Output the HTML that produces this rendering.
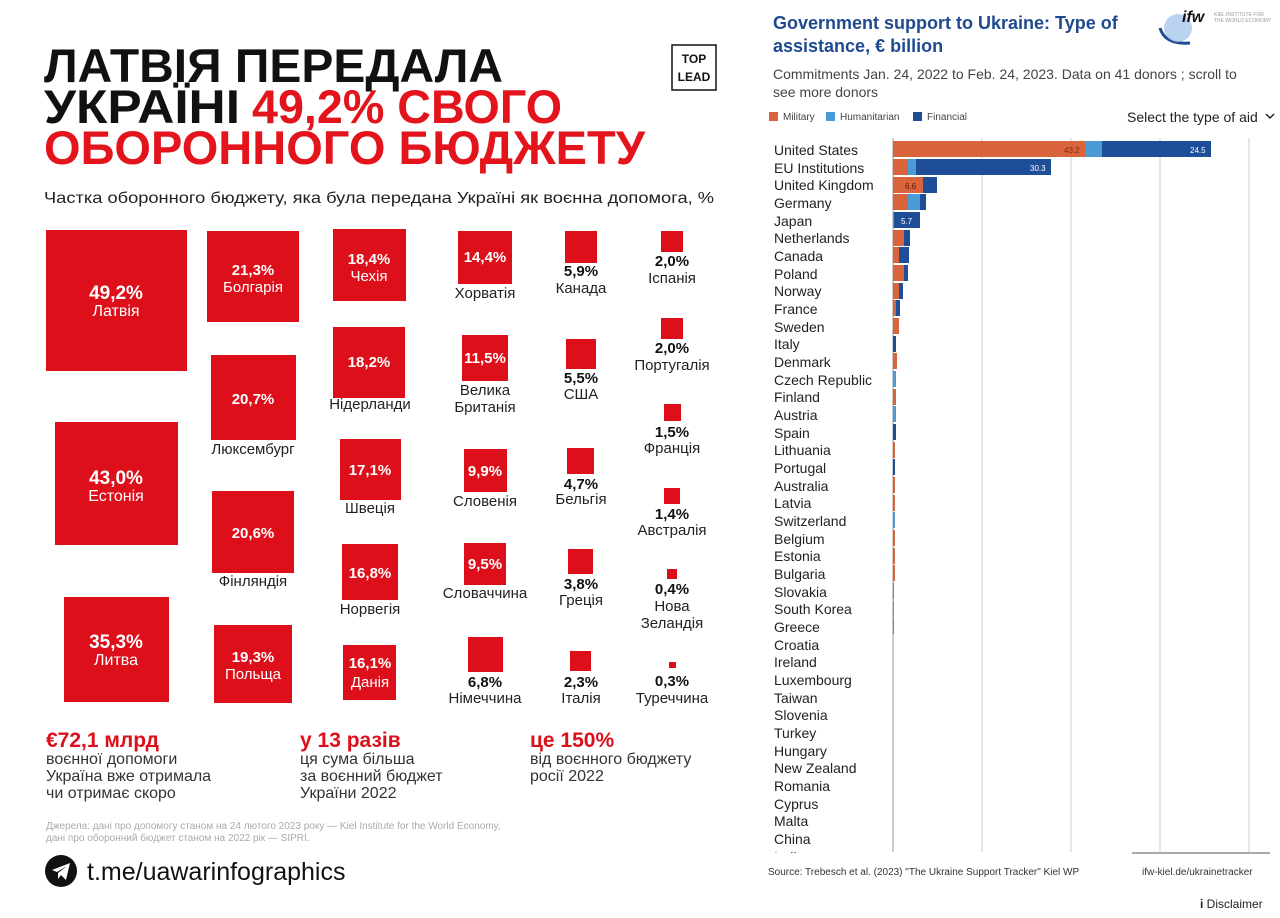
<!DOCTYPE html>
<html><head><meta charset="utf-8"><style>
html,body{margin:0;padding:0;background:#fff;}
svg{display:block;font-family:"Liberation Sans","DejaVu Sans",sans-serif;}
</style></head><body>
<svg width="1280" height="918" viewBox="0 0 1280 918" xmlns="http://www.w3.org/2000/svg">
<rect width="1280" height="918" fill="#fff"/>
<g font-weight="900" font-size="47" fill="#111">
<text x="44" y="82" textLength="459" lengthAdjust="spacingAndGlyphs">ЛАТВІЯ ПЕРЕДАЛА</text>
<text x="44" y="123" textLength="196" lengthAdjust="spacingAndGlyphs">УКРАЇНІ</text>
<text x="252" y="123" fill="#e3141c" textLength="310" lengthAdjust="spacingAndGlyphs">49,2% СВОГО</text>
<text x="44" y="164" fill="#e3141c" textLength="601" lengthAdjust="spacingAndGlyphs">ОБОРОННОГО БЮДЖЕТУ</text>
</g>
<rect x="672" y="45" width="44" height="45" fill="none" stroke="#111" stroke-width="1.5"/>
<text x="694" y="63" font-size="12" font-weight="700" text-anchor="middle" fill="#111">TOP</text>
<text x="694" y="81" font-size="12" font-weight="700" text-anchor="middle" fill="#111">LEAD</text>
<text x="44" y="203" font-size="16" fill="#222" textLength="670" lengthAdjust="spacingAndGlyphs">Частка оборонного бюджету, яка була передана Україні як воєнна допомога, %</text>

<g fill="#dc0f1a">
<rect x="46" y="230" width="141" height="141"/>
<rect x="55" y="422" width="123" height="123"/>
<rect x="64" y="597" width="105" height="105"/>
<rect x="207" y="231" width="92" height="91"/>
<rect x="211" y="355" width="85" height="85"/>
<rect x="212" y="491" width="82" height="82"/>
<rect x="214" y="625" width="78" height="78"/>
<rect x="333" y="229" width="73" height="72"/>
<rect x="333" y="327" width="72" height="71"/>
<rect x="340" y="439" width="61" height="61"/>
<rect x="342" y="544" width="56" height="56"/>
<rect x="343" y="645" width="53" height="55"/>
<rect x="458" y="231" width="54" height="53"/>
<rect x="462" y="335" width="46" height="46"/>
<rect x="464" y="449" width="43" height="43"/>
<rect x="464" y="543" width="42" height="42"/>
<rect x="468" y="637" width="35" height="35"/>
<rect x="565" y="231" width="32" height="32"/>
<rect x="566" y="339" width="30" height="30"/>
<rect x="567" y="448" width="27" height="26"/>
<rect x="568" y="549" width="25" height="25"/>
<rect x="570" y="651" width="21" height="20"/>
<rect x="661" y="231" width="22" height="21"/>
<rect x="661" y="318" width="22" height="21"/>
<rect x="664" y="404" width="17" height="17"/>
<rect x="664" y="488" width="16" height="16"/>
<rect x="667" y="569" width="10" height="10"/>
<rect x="669" y="662" width="7" height="6"/>
</g>
<g fill="#fff" text-anchor="middle">
<g font-weight="900" font-size="19"><text x="116" y="299">49,2%</text><text x="116" y="484">43,0%</text><text x="116" y="648">35,3%</text></g>
<g font-size="16"><text x="116" y="316">Латвія</text><text x="116" y="501">Естонія</text><text x="116" y="665">Литва</text></g>
<g font-weight="900" font-size="15"><text x="253" y="275">21,3%</text><text x="253" y="404">20,7%</text><text x="253" y="538">20,6%</text><text x="253" y="662">19,3%</text>
<text x="369" y="264">18,4%</text><text x="369" y="367">18,2%</text><text x="370" y="475">17,1%</text><text x="370" y="578">16,8%</text><text x="370" y="668">16,1%</text>
<text x="485" y="262">14,4%</text><text x="485" y="363">11,5%</text><text x="485" y="476">9,9%</text><text x="485" y="569">9,5%</text></g>
<g font-size="15"><text x="253" y="292">Болгарія</text><text x="253" y="679">Польща</text><text x="369" y="281">Чехія</text><text x="370" y="687">Данія</text></g>
</g>
<g fill="#222" text-anchor="middle" font-size="15">
<text x="253" y="454">Люксембург</text><text x="253" y="586">Фінляндія</text>
<text x="370" y="409">Нідерланди</text><text x="370" y="513">Швеція</text><text x="370" y="614">Норвегія</text>
<text x="485" y="298">Хорватія</text><text x="485" y="395">Велика</text><text x="485" y="412">Британія</text><text x="485" y="506">Словенія</text><text x="485" y="598">Словаччина</text><text x="485" y="703">Німеччина</text>
<text x="581" y="293">Канада</text><text x="581" y="399">США</text><text x="581" y="504">Бельгія</text><text x="581" y="605">Греція</text><text x="581" y="703">Італія</text>
<text x="672" y="283">Іспанія</text><text x="672" y="370">Португалія</text><text x="672" y="453">Франція</text><text x="672" y="535">Австралія</text><text x="672" y="611">Нова</text><text x="672" y="628">Зеландія</text><text x="672" y="703">Туреччина</text>
</g>
<g fill="#111" text-anchor="middle" font-size="15" font-weight="900">
<text x="485" y="687">6,8%</text>
<text x="581" y="276">5,9%</text><text x="581" y="383">5,5%</text><text x="581" y="489">4,7%</text><text x="581" y="589">3,8%</text><text x="581" y="687">2,3%</text>
<text x="672" y="266">2,0%</text><text x="672" y="353">2,0%</text><text x="672" y="437">1,5%</text><text x="672" y="519">1,4%</text><text x="672" y="594">0,4%</text><text x="672" y="686">0,3%</text>
</g>
<g font-weight="900" font-size="21" fill="#dc0f1a">
<text x="46" y="747">€72,1 млрд</text><text x="300" y="747">у 13 разів</text><text x="530" y="747">це 150%</text>
</g>
<g font-size="16" fill="#333">
<text x="46" y="764">воєнної допомоги</text><text x="46" y="781">Україна вже отримала</text><text x="46" y="798">чи отримає скоро</text>
<text x="300" y="764">ця сума більша</text><text x="300" y="781">за воєнний бюджет</text><text x="300" y="798">України 2022</text>
<text x="530" y="764">від воєнного бюджету</text><text x="530" y="781">росії 2022</text>
</g>
<g font-size="10" fill="#aaa">
<text x="46" y="829">Джерела: дані про допомогу станом на 24 лютого 2023 року — Kiel Institute for the World Economy,</text>
<text x="46" y="841">дані про оборонний бюджет станом на 2022 рік — SIPRI.</text>
</g>
<circle cx="61" cy="871" r="16" fill="#111"/>
<path d="M52 870 L70 863 L66 880 L61 875 L58 879 L58 873 L67 866 L57 872 Z" fill="#fff"/>
<text x="87" y="880" font-size="25" fill="#111">t.me/uawarinfographics</text>

<g font-weight="700" font-size="18" fill="#1f4a8f">
<text x="773" y="29">Government support to Ukraine: Type of</text>
<text x="773" y="52">assistance, € billion</text>
</g>
<path d="M1160 28 Q1165 45 1190 43" stroke="#1f4a8f" stroke-width="3" fill="none"/>
<circle cx="1178" cy="28" r="14" fill="#a8c8ec" opacity="0.8"/>
<text x="1182" y="22" font-size="16" font-weight="900" font-style="italic" fill="#111">ifw</text>
<text x="1214" y="16" font-size="5" fill="#999">KIEL INSTITUTE FOR</text>
<text x="1214" y="22" font-size="5" fill="#999">THE WORLD ECONOMY</text>
<g font-size="14" fill="#444">
<text x="773" y="79">Commitments Jan. 24, 2022 to Feb. 24, 2023. Data on 41 donors ; scroll to</text>
<text x="773" y="97">see more donors</text>
</g>
<rect x="769" y="112" width="9" height="9" fill="#d9633a"/><text x="783" y="120" font-size="10" fill="#444">Military</text>
<rect x="826" y="112" width="9" height="9" fill="#4a9bd6"/><text x="840" y="120" font-size="10" fill="#444">Humanitarian</text>
<rect x="913" y="112" width="9" height="9" fill="#1f4e99"/><text x="927" y="120" font-size="10" fill="#444">Financial</text>
<text x="1127" y="122" font-size="14" fill="#222">Select the type of aid</text>
<path d="M1266 114 L1270 118 L1274 114" stroke="#222" stroke-width="1.5" fill="none"/>

<g stroke="#ccc" stroke-width="1">
<line x1="982" y1="138" x2="982" y2="852"/><line x1="1071" y1="138" x2="1071" y2="852"/><line x1="1160" y1="138" x2="1160" y2="852"/><line x1="1249" y1="138" x2="1249" y2="852"/>
</g>
<line x1="893" y1="138" x2="893" y2="852" stroke="#999"/>

<g>
<rect x="893" y="141" width="192" height="16" fill="#d9633a"/><rect x="1085" y="141" width="17" height="16" fill="#4a9bd6"/><rect x="1102" y="141" width="109" height="16" fill="#1f4e99"/>
<rect x="893" y="159" width="15" height="16" fill="#d9633a"/><rect x="908" y="159" width="8" height="16" fill="#4a9bd6"/><rect x="916" y="159" width="135" height="16" fill="#1f4e99"/>
<rect x="893" y="177" width="30" height="16" fill="#d9633a"/><rect x="923" y="177" width="14" height="16" fill="#1f4e99"/>
<rect x="893" y="194" width="15" height="16" fill="#d9633a"/><rect x="908" y="194" width="12" height="16" fill="#4a9bd6"/><rect x="920" y="194" width="6" height="16" fill="#1f4e99"/>
<rect x="893" y="212" width="1" height="16" fill="#4a9bd6"/><rect x="894" y="212" width="26" height="16" fill="#1f4e99"/>
<rect x="893" y="230" width="11" height="16" fill="#d9633a"/><rect x="904" y="230" width="6" height="16" fill="#1f4e99"/>
<rect x="893" y="247" width="6" height="16" fill="#d9633a"/><rect x="899" y="247" width="10" height="16" fill="#1f4e99"/>
<rect x="893" y="265" width="11" height="16" fill="#d9633a"/><rect x="904" y="265" width="4" height="16" fill="#1f4e99"/>
<rect x="893" y="283" width="6" height="16" fill="#d9633a"/><rect x="899" y="283" width="4" height="16" fill="#1f4e99"/>
<rect x="893" y="300" width="3" height="16" fill="#d9633a"/><rect x="896" y="300" width="4" height="16" fill="#1f4e99"/>
<rect x="893" y="318" width="6" height="16" fill="#d9633a"/>
<rect x="893" y="336" width="3" height="16" fill="#1f4e99"/>
<rect x="893" y="353" width="4" height="16" fill="#d9633a"/>
<rect x="893" y="371" width="3" height="16" fill="#4a9bd6"/>
<rect x="893" y="389" width="3" height="16" fill="#d9633a"/>
<rect x="893" y="406" width="3" height="16" fill="#4a9bd6"/>
<rect x="893" y="424" width="3" height="16" fill="#1f4e99"/>
<rect x="893" y="442" width="2" height="16" fill="#d9633a"/>
<rect x="893" y="459" width="2" height="16" fill="#1f4e99"/>
<rect x="893" y="477" width="2" height="16" fill="#d9633a"/>
<rect x="893" y="495" width="2" height="16" fill="#d9633a"/>
<rect x="893" y="512" width="2" height="16" fill="#4a9bd6"/>
<rect x="893" y="530" width="2" height="16" fill="#d9633a"/>
<rect x="893" y="548" width="2" height="16" fill="#d9633a"/>
<rect x="893" y="565" width="2" height="16" fill="#d9633a"/>
<rect x="893" y="583" width="1" height="16" fill="#d9633a"/>
<rect x="893" y="601" width="1" height="16" fill="#4a9bd6"/>
<rect x="893" y="618" width="1" height="16" fill="#d9633a"/>
</g>
<g font-size="8" fill="#fff">
<text x="1064" y="153" fill="#7a2a10">43.2</text><text x="1190" y="153">24.5</text><text x="1030" y="171">30.3</text><text x="905" y="189" fill="#5a1a00">6.6</text><text x="901" y="224">5.7</text>
</g>
<g font-size="14" fill="#222">
<text x="774" y="155">United States</text><text x="774" y="173">EU Institutions</text><text x="774" y="190">United Kingdom</text><text x="774" y="208">Germany</text><text x="774" y="226">Japan</text><text x="774" y="243">Netherlands</text><text x="774" y="261">Canada</text><text x="774" y="279">Poland</text><text x="774" y="296">Norway</text><text x="774" y="314">France</text><text x="774" y="332">Sweden</text><text x="774" y="349">Italy</text><text x="774" y="367">Denmark</text><text x="774" y="385">Czech Republic</text><text x="774" y="402">Finland</text><text x="774" y="420">Austria</text><text x="774" y="438">Spain</text><text x="774" y="455">Lithuania</text><text x="774" y="473">Portugal</text><text x="774" y="491">Australia</text><text x="774" y="508">Latvia</text><text x="774" y="526">Switzerland</text><text x="774" y="544">Belgium</text><text x="774" y="561">Estonia</text><text x="774" y="579">Bulgaria</text><text x="774" y="597">Slovakia</text><text x="774" y="614">South Korea</text><text x="774" y="632">Greece</text><text x="774" y="650">Croatia</text><text x="774" y="667">Ireland</text><text x="774" y="685">Luxembourg</text><text x="774" y="703">Taiwan</text><text x="774" y="720">Slovenia</text><text x="774" y="738">Turkey</text><text x="774" y="756">Hungary</text><text x="774" y="773">New Zealand</text><text x="774" y="791">Romania</text><text x="774" y="809">Cyprus</text><text x="774" y="826">Malta</text><text x="774" y="844">China</text>
<text x="774" y="862">India</text>
</g>
<rect x="760" y="853" width="520" height="12" fill="#fff"/>
<line x1="1132" y1="853" x2="1270" y2="853" stroke="#555"/>
<text x="768" y="875" font-size="10" fill="#333">Source: Trebesch et al. (2023) "The Ukraine Support Tracker" Kiel WP</text>
<text x="1142" y="875" font-size="10" fill="#333">ifw-kiel.de/ukrainetracker</text>
<text x="1200" y="908" font-size="12" fill="#222"><tspan font-weight="700">i</tspan> Disclaimer</text>
</svg>
</body></html>
